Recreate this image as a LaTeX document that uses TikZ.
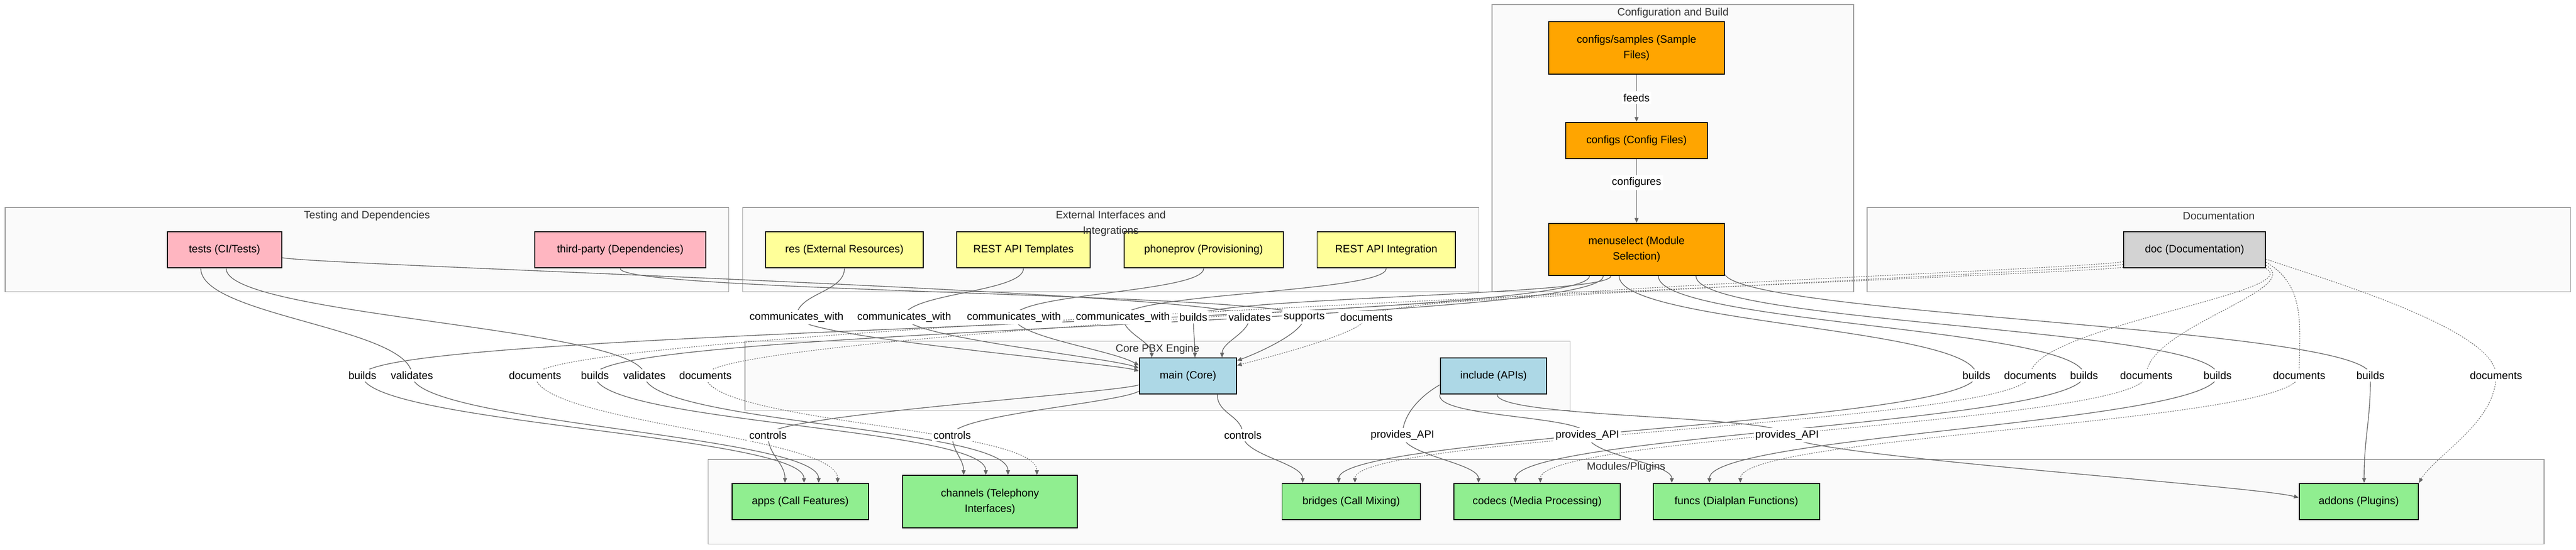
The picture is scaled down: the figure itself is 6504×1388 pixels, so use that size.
\documentclass[tikz,border=0pt]{standalone}
\usepackage{fontspec}
\setmainfont{Liberation Sans}
\usetikzlibrary{arrows.meta}
\pgfdeclarelayer{bg}
\pgfdeclarelayer{wires}
\pgfsetlayers{bg,wires,main}

\definecolor{cfgorange}{HTML}{FFA500}
\definecolor{testpink}{HTML}{FFB6C1}
\definecolor{extyellow}{HTML}{FFFF99}
\definecolor{coreblue}{HTML}{ADD8E6}
\definecolor{docgray}{HTML}{D3D3D3}
\definecolor{modgreen}{HTML}{90EE90}
\definecolor{groupfill}{HTML}{FAFAFA}
\definecolor{groupline}{HTML}{999999}
\definecolor{wire}{HTML}{666666}
\definecolor{titlegray}{HTML}{333333}

\newcommand{\dfont}{\fontsize{13.5}{19.5}\selectfont}

\tikzset{
    box/.style={draw=black, line width=1.25pt, minimum height=46pt, inner sep=0pt, align=center, font=\dfont},
    tall/.style={minimum height=66pt},
    group/.style={draw=groupline, fill=groupfill, line width=1pt, inner sep=0pt},
    grouptitle/.style={text=titlegray, align=center, font=\dfont},
    lbl/.style={fill=white, inner xsep=2pt, inner ysep=3pt, font=\dfont},
    link/.style={draw=wire, line width=0.9pt, -{Triangle[length=6pt,width=5pt]}},
    doclink/.style={link, line width=0.75pt, dash pattern=on 1.5pt off 1.5pt},
}

\begin{document}
\begin{tikzpicture}[x=0.5pt, y=0.5pt]
    \useasboundingbox (0,0) rectangle (6504,-1388);

    \begin{pgfonlayer}{bg}
        \node[group, minimum width=456.5pt, minimum height=362.5pt] (gcfg) at (4223.5,-374.5) {};
        \node[group, minimum width=913.5pt, minimum height=106.5pt] (gtest) at (926.5,-630.5) {};
        \node[group, minimum width=929.5pt, minimum height=106.5pt] (gext) at (2804.5,-630.5) {};
        \node[group, minimum width=888pt, minimum height=106.5pt] (gdoc) at (5602,-630.5) {};
        \node[group, minimum width=1041.5pt, minimum height=87pt] (gcore) at (2922.5,-949) {};
        \node[group, minimum width=2317.5pt, minimum height=107pt] (gmod) at (4105.5,-1267) {};
    \end{pgfonlayer}

    \node[box, tall, fill=cfgorange, minimum width=222pt] (samples) at (4132,-121) {configs/samples (Sample\\Files)};
    \node[box, fill=cfgorange, minimum width=178.5pt] (configs) at (4132,-355) {configs (Config Files)};
    \node[box, tall, fill=cfgorange, minimum width=221.5pt] (menu) at (4132,-630) {menuselect (Module\\Selection)};

    \node[box, fill=testpink, minimum width=144pt] (tests) at (567,-631) {tests (CI/Tests)};
    \node[box, fill=testpink, minimum width=216pt] (third) at (1566,-631) {third-party (Dependencies)};

    \node[box, fill=extyellow, minimum width=198.5pt] (res) at (2132,-631) {res (External Resources)};
    \node[box, fill=extyellow, minimum width=169pt] (tmpl) at (2584,-631) {REST API Templates};
    \node[box, fill=extyellow, minimum width=201pt] (phone) at (3039,-631) {phoneprov (Provisioning)};
    \node[box, fill=extyellow, minimum width=174.5pt] (restint) at (3500,-631) {REST API Integration};

    \node[box, fill=docgray, minimum width=179pt] (doc) at (5541,-631) {doc (Documentation)};

    \node[box, fill=coreblue, minimum width=122.5pt, minimum height=45.5pt] (main) at (2999.5,-950) {main (Core)};
    \node[box, fill=coreblue, minimum width=134.5pt, minimum height=45.5pt] (inc) at (3771,-950) {include (APIs)};

    \node[box, fill=modgreen, minimum width=172.5pt] (apps) at (2020.5,-1267) {apps (Call Features)};
    \node[box, tall, fill=modgreen, minimum width=220.5pt] (chan) at (2499.5,-1267) {channels (Telephony\\Interfaces)};
    \node[box, fill=modgreen, minimum width=174.5pt] (bridges) at (3411.5,-1267) {bridges (Call Mixing)};
    \node[box, fill=modgreen, minimum width=210pt] (codecs) at (3881,-1267) {codecs (Media Processing)};
    \node[box, fill=modgreen, minimum width=210pt] (funcs) at (4384,-1267) {funcs (Dialplan Functions)};
    \node[box, fill=modgreen, minimum width=150.5pt] (addons) at (5955.5,-1267) {addons (Plugins)};

    \node[grouptitle] (tcfg) at (4224,-33) {Configuration and Build};
    \node[grouptitle] (ttest) at (926.5,-545) {Testing and Dependencies};
    \node[grouptitle] (text) at (2804.5,-564.5) {External Interfaces and\\Integrations};
    \node[grouptitle] (tdoc) at (5602,-545) {Documentation};
    \node[grouptitle] (tcore) at (2922.5,-882) {Core PBX Engine};
    \node[grouptitle] (tmod) at (4105.5,-1180) {Modules/Plugins};

    \node[lbl] (feeds) at (4132,-247) {feeds};
    \node[lbl] (confs) at (4132,-461) {configures};

    \node[lbl] (cw1) at (2011,-801) {communicates\_with};
    \node[lbl] (cw2) at (2283,-801) {communicates\_with};
    \node[lbl] (cw3) at (2560,-801) {communicates\_with};
    \node[lbl] (cw4) at (2835,-801) {communicates\_with};
    \node[lbl] (bd0) at (3013,-801) {builds};
    \node[lbl] (vd0) at (3155,-801) {validates};
    \node[lbl] (sp0) at (3293,-801) {supports};
    \node[lbl] (dc0) at (3450,-801) {documents};

    \node[lbl] (bd1) at (915,-948) {builds};
    \node[lbl] (vd1) at (1040,-948) {validates};
    \node[lbl] (dc1) at (1351,-948) {documents};
    \node[lbl] (bd2) at (1502,-948) {builds};
    \node[lbl] (vd2) at (1627,-948) {validates};
    \node[lbl] (dc2) at (1781,-948) {documents};
    \node[lbl] (bd3) at (4990,-948) {builds};
    \node[lbl] (dc3) at (5126,-948) {documents};
    \node[lbl] (bd4) at (5262,-948) {builds};
    \node[lbl] (dc4) at (5419,-948) {documents};
    \node[lbl] (bd5) at (5599,-948) {builds};
    \node[lbl] (dc5) at (5805,-948) {documents};
    \node[lbl] (bd6) at (5985,-948) {builds};
    \node[lbl] (dc6) at (6302,-948) {documents};

    \node[lbl] (ct1) at (1939,-1099) {controls};
    \node[lbl] (ct2) at (2404,-1099) {controls};
    \node[lbl] (ct3) at (3138,-1099) {controls};
    \node[lbl] (pa1) at (3541,-1099) {provides\_API};
    \node[lbl] (pa2) at (4008,-1099) {provides\_API};
    \node[lbl] (pa3) at (4512,-1099) {provides\_API};

    \begin{pgfonlayer}{wires}
        \draw[link] (samples) -- (feeds) -- (configs);
        \draw[link] (configs) -- (confs) -- (menu);

        \draw[link] (res.south) .. controls +(-90:30pt) and +(90:30pt) .. (cw1.center)
            .. controls +(-90:25pt) and +(165:40pt) .. ([yshift=6.5pt]main.west);
        \draw[link] (tmpl.south) .. controls +(-90:30pt) and +(90:30pt) .. (cw2.center)
            .. controls +(-90:25pt) and +(160:40pt) .. ([yshift=10pt]main.west);
        \draw[link] (phone.south) .. controls +(-90:30pt) and +(90:30pt) .. (cw3.center)
            .. controls +(-90:25pt) and +(150:40pt) .. ([yshift=13.5pt]main.west);
        \draw[link] (restint.south) .. controls +(-90:30pt) and +(90:30pt) .. (cw4.center)
            .. controls +(-90:20pt) and +(90:20pt) .. ([xshift=-45.75pt]main.north);
        \draw[link] ([xshift=-32.5pt]menu.south) .. controls +(-90:25pt) and +(90:25pt) .. (bd0.center)
            .. controls +(-90:20pt) and +(90:20pt) .. ([xshift=8.75pt]main.north);
        \draw[link] ([yshift=-10pt]tests.east) .. controls +(-10:60pt) and +(90:30pt) .. (vd0.center)
            .. controls +(-90:20pt) and +(90:20pt) .. ([xshift=43pt]main.north);
        \draw[link] (third.south) .. controls +(-90:30pt) and +(90:30pt) .. (sp0.center)
            .. controls +(-90:20pt) and +(20:25pt) .. ([yshift=19.5pt]main.east);
        \draw[doclink] ([yshift=-15pt]doc.west) .. controls +(190:60pt) and +(90:30pt) .. (dc0.center)
            .. controls +(-90:20pt) and +(15:30pt) .. ([yshift=13.5pt]main.east);

        \draw[link] ([xshift=-59.5pt]menu.south) .. controls +(-90:60pt) and +(90:60pt) .. (bd1.center)
            .. controls +(-90:60pt) and +(90:60pt) .. ([xshift=4.75pt]apps.north);
        \draw[link] ([xshift=-30pt]tests.south) .. controls +(-90:60pt) and +(90:60pt) .. (vd1.center)
            .. controls +(-90:60pt) and +(90:60pt) .. ([xshift=23.25pt]apps.north);
        \draw[doclink] ([yshift=-22pt]doc.west) .. controls +(190:60pt) and +(90:60pt) .. (dc1.center)
            .. controls +(-90:60pt) and +(90:60pt) .. ([xshift=47.25pt]apps.north);
        \draw[link] ([xshift=-42pt]menu.south) .. controls +(-90:60pt) and +(90:60pt) .. (bd2.center)
            .. controls +(-90:60pt) and +(90:60pt) .. ([xshift=-5.25pt]chan.north);
        \draw[link] ([xshift=2pt]tests.south) .. controls +(-90:60pt) and +(90:60pt) .. (vd2.center)
            .. controls +(-90:60pt) and +(90:60pt) .. ([xshift=22.75pt]chan.north);
        \draw[doclink] ([yshift=-18.5pt]doc.west) .. controls +(190:60pt) and +(90:60pt) .. (dc2.center)
            .. controls +(-90:60pt) and +(90:60pt) .. ([xshift=59.25pt]chan.north);

        \draw[link] ([xshift=-22pt]menu.south) .. controls +(-90:60pt) and +(90:60pt) .. (bd3.center)
            .. controls +(-90:60pt) and +(90:60pt) .. ([xshift=-15.75pt]bridges.north);
        \draw[doclink] (doc.south east) .. controls +(-30:60pt) and +(90:60pt) .. (dc3.center)
            .. controls +(-90:60pt) and +(90:60pt) .. ([xshift=4.75pt]bridges.north);
        \draw[link] ([xshift=27.5pt]menu.south) .. controls +(-90:60pt) and +(90:60pt) .. (bd4.center)
            .. controls +(-90:60pt) and +(90:60pt) .. ([xshift=-27.5pt]codecs.north);
        \draw[doclink] ([yshift=4pt]doc.south east) .. controls +(-30:60pt) and +(90:60pt) .. (dc4.center)
            .. controls +(-90:60pt) and +(90:60pt) .. ([xshift=4pt]codecs.north);
        \draw[link] ([xshift=75pt]menu.south) .. controls +(-90:60pt) and +(90:60pt) .. (bd5.center)
            .. controls +(-90:60pt) and +(90:60pt) .. ([xshift=-34pt]funcs.north);
        \draw[doclink] ([yshift=8pt]doc.south east) .. controls +(-30:60pt) and +(90:60pt) .. (dc5.center)
            .. controls +(-90:60pt) and +(90:60pt) .. ([xshift=5pt]funcs.north);
        \draw[link] ([yshift=2pt]menu.south east) .. controls +(-60:60pt) and +(90:60pt) .. (bd6.center)
            .. controls +(-90:60pt) and +(90:60pt) .. ([xshift=6.75pt]addons.north);
        \draw[doclink] ([yshift=12pt]doc.south east) .. controls +(-20:60pt) and +(90:60pt) .. (dc6.center)
            .. controls +(-90:60pt) and +(60:40pt) .. (addons.north east);

        \draw[link] ([yshift=-11pt]main.west) .. controls +(200:30pt) and +(90:25pt) .. (ct1.center)
            .. controls +(-90:25pt) and +(90:25pt) .. ([xshift=-19.25pt]apps.north);
        \draw[link] ([yshift=-19pt]main.west) .. controls +(210:30pt) and +(90:25pt) .. (ct2.center)
            .. controls +(-90:20pt) and +(90:20pt) .. ([xshift=-33.25pt]chan.north);
        \draw[link] ([xshift=37pt]main.south) .. controls +(-90:25pt) and +(90:25pt) .. (ct3.center)
            .. controls +(-90:25pt) and +(90:25pt) .. ([xshift=-61.25pt]bridges.north);
        \draw[link] ([yshift=-11pt]inc.west) .. controls +(210:30pt) and +(90:25pt) .. (pa1.center)
            .. controls +(-90:25pt) and +(90:25pt) .. ([xshift=-74pt]codecs.north);
        \draw[link] (inc.south west) .. controls +(-100:30pt) and +(90:25pt) .. (pa2.center)
            .. controls +(-90:25pt) and +(90:25pt) .. ([xshift=-81.5pt]funcs.north);
        \draw[link] ([xshift=4.5pt]inc.south) .. controls +(-90:30pt) and +(90:25pt) .. (pa3.center)
            .. controls +(-90:25pt) and +(165:60pt) .. ([yshift=5pt]addons.west);
    \end{pgfonlayer}
\end{tikzpicture}
\end{document}
